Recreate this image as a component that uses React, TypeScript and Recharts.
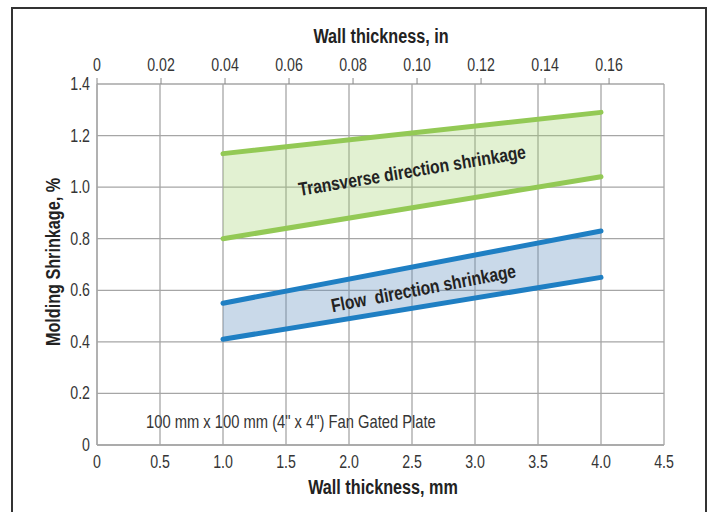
import {
  ComposedChart,
  Area,
  Line,
  XAxis,
  YAxis,
  CartesianGrid,
  ReferenceDot,
} from "recharts";

const thicknessMm = [1.0, 4.0];
const transverseLow = [0.8, 1.04];
const transverseHigh = [1.13, 1.29];
const flowLow = [0.41, 0.65];
const flowHigh = [0.55, 0.83];

const mmTicks = [0, 0.5, 1.0, 1.5, 2.0, 2.5, 3.0, 3.5, 4.0, 4.5];
const inTicks = [0, 0.02, 0.04, 0.06, 0.08, 0.1, 0.12, 0.14, 0.16];
const yTicks = [0, 0.2, 0.4, 0.6, 0.8, 1.0, 1.2, 1.4];

const data = thicknessMm.map((mm, i) => ({
  mm,
  tLow: transverseLow[i],
  tHigh: transverseHigh[i],
  tBand: [transverseLow[i], transverseHigh[i]],
  fLow: flowLow[i],
  fHigh: flowHigh[i],
  fBand: [flowLow[i], flowHigh[i]],
}));

// no condensed font installed, so squeeze Liberation Sans horizontally
const FONT = '"Liberation Sans", Arial, sans-serif';
const SQUEEZE = 0.81;
const GREEN = "#93c955";
const BLUE = "#1f7fc3";
const GRID = "#a6a6a6";
const TEXT = "#353535";

type NarrowProps = {
  x: number;
  y: number;
  anchor?: "start" | "middle" | "end";
  size: number;
  bold?: boolean;
  rotate?: number;
  fill?: string;
  squeeze?: number;
  children: string;
};

function Narrow({ x, y, anchor = "start", size, bold, rotate = 0, fill = TEXT, squeeze = SQUEEZE, children }: NarrowProps) {
  return (
    <g transform={`translate(${x},${y}) rotate(${rotate}) scale(${squeeze},1)`}>
      <text
        x={0}
        y={0}
        textAnchor={anchor}
        fontFamily={FONT}
        fontSize={size}
        fontWeight={bold ? "bold" : "normal"}
        fill={fill}
        style={{ whiteSpace: "pre" }}
      >
        {children}
      </text>
    </g>
  );
}

const fmt1 = (v: number) => (v === 0 ? "0" : v.toFixed(1));
const fmt2 = (v: number) => (v === 0 ? "0" : v.toFixed(2));

const BottomTick = (props: any) => (
  <Narrow x={props.x} y={props.y + 13} anchor="middle" size={17.5}>
    {fmt1(props.payload.value)}
  </Narrow>
);

const TopTick = (props: any) => (
  <Narrow x={props.x} y={props.y - 1} anchor="middle" size={17.5}>
    {fmt2(props.payload.value)}
  </Narrow>
);

const LeftTick = (props: any) => (
  <Narrow x={props.x} y={props.y + 6} anchor="end" size={17.5}>
    {fmt1(props.payload.value)}
  </Narrow>
);

const bandLabel = (text: string, angle: number) => (props: any) => {
  const { cx, cy } = props;
  return (
    <g transform={`translate(${cx},${cy}) rotate(${angle}) scale(0.82,1)`}>
      <text
        x={0}
        y={7}
        textAnchor="middle"
        fontFamily={FONT}
        fontWeight="bold"
        fontSize={19}
        fill="#232323"
        style={{ whiteSpace: "pre" }}
      >
        {text}
      </text>
    </g>
  );
};

export default function App() {
  return (
    <div
      style={{
        position: "absolute",
        left: 0,
        top: 0,
        width: 709,
        height: 512,
        overflow: "hidden",
        background: "#fff",
      }}
    >
      <div
        style={{
          position: "absolute",
          left: 11,
          top: 7,
          width: 696,
          height: 600,
          border: "2px solid #333",
          boxSizing: "border-box",
        }}
      />
      <ComposedChart
        width={709}
        height={512}
        data={data}
        margin={{ top: 0, right: 45, bottom: 0, left: 0 }}
        style={{ position: "absolute", left: 0, top: 0 }}
      >
        <CartesianGrid xAxisId="mm" stroke={GRID} strokeWidth={1.3} />
        <XAxis
          xAxisId="mm"
          dataKey="mm"
          type="number"
          domain={[0, 4.5]}
          ticks={mmTicks}
          interval={0}
          height={67}
          tick={BottomTick}
          tickLine={false}
          tickSize={6}
          tickMargin={4}
          axisLine={{ stroke: GRID, strokeWidth: 1.3 }}
        />
        <XAxis
          xAxisId="in"
          orientation="top"
          dataKey={(d: any) => d.mm / 25.4}
          type="number"
          domain={[0, 4.5 / 25.4]}
          allowDataOverflow
          ticks={inTicks}
          interval={0}
          height={84}
          tick={TopTick}
          tickLine={{ stroke: "#888" }}
          tickSize={6}
          tickMargin={6}
          axisLine={false}
        />
        <YAxis
          type="number"
          domain={[0, 1.4]}
          ticks={yTicks}
          interval={0}
          width={97}
          tick={LeftTick}
          tickLine={false}
          tickSize={0}
          tickMargin={7}
          axisLine={{ stroke: GRID, strokeWidth: 1.3 }}
        />
        <Area
          xAxisId="mm"
          dataKey="tBand"
          stroke="none"
          fill="#9fcf6a"
          fillOpacity={0.3}
          isAnimationActive={false}
        />
        <Area
          xAxisId="mm"
          dataKey="fBand"
          stroke="none"
          fill="#6592c0"
          fillOpacity={0.35}
          isAnimationActive={false}
        />
        <Line xAxisId="mm" dataKey="tHigh" stroke={GREEN} strokeWidth={5} strokeLinecap="round" dot={false} isAnimationActive={false} />
        <Line xAxisId="mm" dataKey="tLow" stroke={GREEN} strokeWidth={5} strokeLinecap="round" dot={false} isAnimationActive={false} />
        <Line xAxisId="mm" dataKey="fHigh" stroke={BLUE} strokeWidth={5} strokeLinecap="round" dot={false} isAnimationActive={false} />
        <Line xAxisId="mm" dataKey="fLow" stroke={BLUE} strokeWidth={5} strokeLinecap="round" dot={false} isAnimationActive={false} />
        <ReferenceDot
          xAxisId="mm"
          x={2.5}
          y={1.066}
          r={0}
          shape={bandLabel("Transverse direction shrinkage", -9.5)}
        />
        <ReferenceDot
          xAxisId="mm"
          x={2.59}
          y={0.61}
          r={0}
          shape={bandLabel("Flow  direction shrinkage", -10.8)}
        />
        <Narrow x={381} y={43} anchor="middle" size={20} bold fill="#222">
          Wall thickness, in
        </Narrow>
        <Narrow x={383} y={494} anchor="middle" size={20} bold fill="#222">
          Wall thickness, mm
        </Narrow>
        <Narrow x={60} y={262} anchor="middle" size={20} bold fill="#222" rotate={-90}>
          Molding Shrinkage, %
        </Narrow>
        <Narrow x={146} y={428} size={18} squeeze={0.82}>
          100 mm x 100 mm (4" x 4") Fan Gated Plate
        </Narrow>
      </ComposedChart>
    </div>
  );
}
